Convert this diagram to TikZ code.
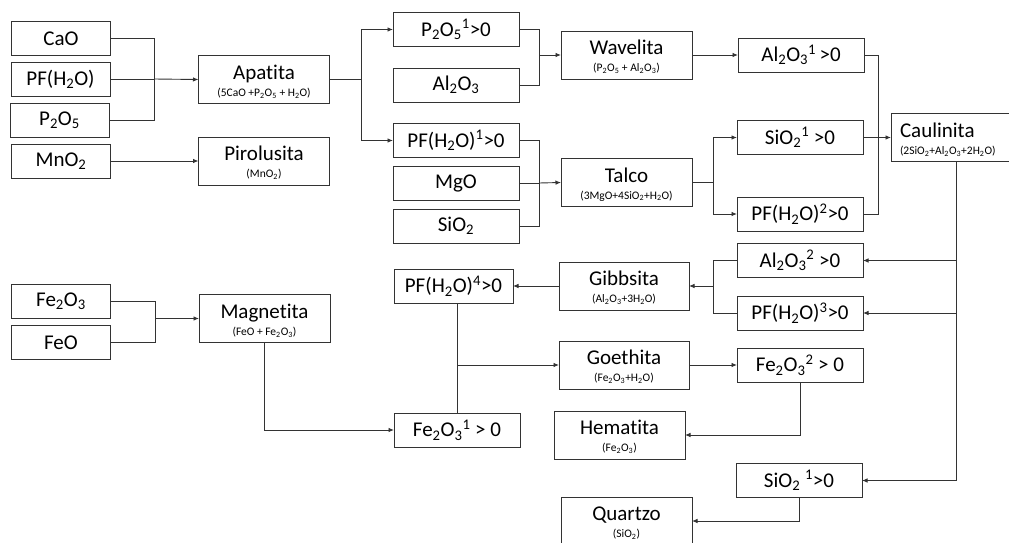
\documentclass[tikz,border=0pt]{standalone}
\usepackage{fontspec}
\setmainfont{Carlito}[Ligatures=NoCommon]
\usetikzlibrary{arrows.meta}
\newcommand\ssb[1]{\textsubscript{#1}}
\newcommand\ssp[1]{\textsuperscript{#1}}
\newcommand\mname[1]{\rule{0pt}{18.3pt}#1}
\newcommand\fml[1]{{\fontsize{11.5}{17}\selectfont #1}}

\begin{document}
\begin{tikzpicture}[x=1pt,y=-1pt,
  every node/.style={inner sep=0pt, outer sep=0pt},
  elem/.style={draw=black!80, line width=0.9pt, fill=white,
    font=\fontsize{21}{23}\selectfont, minimum height=34pt},
  small/.style={elem, minimum width=99pt},
  cond/.style={elem, minimum width=126pt},
  mineral/.style={draw=black!80, line width=0.9pt, fill=white,
    minimum width=131pt, minimum height=48pt, align=center,
    font=\fontsize{21}{17}\selectfont},
  link/.style={draw=black!80, line width=0.9pt},
  arr/.style={link, -{Latex[length=5.5pt,width=4.5pt]}},
]
\useasboundingbox (0,0) rectangle (1009,543);

% raw oxides
\node[small] (cao)  at (61,38.5) {CaO};
\node[small] (pfh)  at (60.5,79) {PF(H\ssb{2}O)};
\node[small] (p2o5) at (59.5,120) {P\ssb{2}O\ssb{5}};
\node[small] (mno2) at (61,161) {MnO\ssb{2}};
\node[small] (fe2o3) at (61,301) {Fe\ssb{2}O\ssb{3}};
\node[small] (feo)  at (61,342.5) {FeO};

% primary minerals
\node[mineral] (apatita) at (264,79.5) {\mname{Apatita}\\\fml{(5CaO +P\ssb{2}O\ssb{5} + H\ssb{2}O)}};
\node[mineral] (pirolusita) at (264,161) {\mname{Pirolusita}\\\fml{(MnO\ssb{2})}};
\node[mineral] (magnetita) at (264.5,318.5) {\mname{Magnetita}\\\fml{(FeO + Fe\ssb{2}O\ssb{3})}};

% second column
\node[cond] (p2o5c)  at (456,29.5) {P\ssb{2}O\ssb{5}\ssp{1}>0};
\node[cond] (al2o3)  at (456,85) {Al\ssb{2}O\ssb{3}};
\node[cond] (pfh1)   at (456,140.5) {PF(H\ssb{2}O)\ssp{1}>0};
\node[cond] (mgo)    at (456,183) {MgO};
\node[cond] (sio2)   at (456,226) {SiO\ssb{2}};
\node[cond, minimum width=119pt] (pfh4) at (453.5,286) {PF(H\ssb{2}O)\ssp{4}>0};
\node[cond] (fe2o3c1) at (457,430) {Fe\ssb{2}O\ssb{3}\ssp{1} > 0};

% secondary minerals
\node[mineral] (wavelita) at (626.5,55) {\mname{Wavelita}\\\fml{(P\ssb{2}O\ssb{5} + Al\ssb{2}O\ssb{3})}};
\node[mineral] (talco)    at (626.5,182.5) {\mname{Talco}\\\fml{(3MgO+4SiO\ssb{2}+H\ssb{2}O)}};
\node[mineral, minimum width=130pt] (gibbsita) at (624,286) {\mname{Gibbsita}\\\fml{(Al\ssb{2}O\ssb{3}+3H\ssb{2}O)}};
\node[mineral, minimum width=130pt] (goethita) at (624,365) {\mname{Goethita}\\\fml{(Fe\ssb{2}O\ssb{3}+H\ssb{2}O)}};
\node[mineral] (hematita) at (619.5,435) {\mname{Hematita}\\\fml{(Fe\ssb{2}O\ssb{3})}};
\node[mineral] (quartzo)  at (626.5,521) {\mname{Quartzo}\\\fml{(SiO\ssb{2})}};

% right-hand conditions
\node[cond] (al2o3c1) at (801,55) {Al\ssb{2}O\ssb{3}\ssp{1}\,>0};
\node[cond] (sio2c1)  at (800,137.5) {SiO\ssb{2}\ssp{1} >0};
\node[cond] (pfh2)    at (800,214) {PF(H\ssb{2}O)\ssp{2}>0};
\node[cond] (al2o3c2) at (800,260.5) {Al\ssb{2}O\ssb{3}\ssp{2} >0};
\node[cond] (pfh3)    at (800,313) {PF(H\ssb{2}O)\ssp{3}>0};
\node[cond] (fe2o3c2) at (800,365) {Fe\ssb{2}O\ssb{3}\ssp{2} > 0};
\node[cond] (sio2c1b) at (799,480.5) {SiO\ssb{2} \ssp{1}>0};

% kaolinite, running past the right edge
\node[mineral, minimum width=121pt, text width=103pt, inner xsep=9pt, align=left]
  (caulinita) at (951.5,137.5) {\mname{Caulinita}\\\fml{(2SiO\ssb{2}+Al\ssb{2}O\ssb{3}+2H\ssb{2}O)}};

% junction points
\coordinate (j1) at (154,79);
\coordinate (b1) at (361,79.5);
\coordinate (j2) at (539,55);
\coordinate (j3) at (539,183);
\coordinate (b2) at (713,182.5);
\coordinate (j4) at (878,137.5);
\coordinate (trunk) at (956,480.5);
\coordinate (j5) at (713,286);
\coordinate (g1) at (457,365);
\coordinate (j6) at (155,318.5);

% apatite
\draw[link] (cao.east) -| (j1);
\draw[link] (p2o5.east) -| (j1);
\draw[link] (pfh.east) -- (j1);
\draw[arr] (j1) -- (apatita.west);
\draw[arr] (mno2) -- (pirolusita);

% apatite branches
\draw[link] (apatita.east) -- (b1);
\draw[arr] (b1) |- (p2o5c.west);
\draw[arr] (b1) |- (pfh1.west);

% wavellite and talc
\draw[link] (p2o5c.east) -| (j2);
\draw[link] (al2o3.east) -| (j2);
\draw[arr] (j2) -- (wavelita.west);
\draw[link] (pfh1.east) -| (j3);
\draw[link] (mgo.east) -| (j3);
\draw[link] (sio2.east) -| (j3);
\draw[arr] (j3) -- (talco.west);
\draw[arr] (wavelita.east) -- (al2o3c1.west);
\draw[link] (talco.east) -- (b2);
\draw[arr] (b2) |- (sio2c1.west);
\draw[arr] (b2) |- (pfh2.west);

% kaolinite
\draw[link] (al2o3c1.east) -| (j4);
\draw[link] (pfh2.east) -| (j4);
\draw[link] (sio2c1.east) -- (j4);
\draw[arr] (j4) -- (caulinita.west);
\draw[link] (caulinita.south -| trunk) -- (trunk);
\draw[arr] (trunk |- al2o3c2) -- (al2o3c2.east);
\draw[arr] (trunk |- pfh3) -- (pfh3.east);
\draw[arr] (trunk) -- (sio2c1b.east);

% gibbsite, goethite, hematite, quartz
\draw[link] (al2o3c2.west) -| (j5);
\draw[link] (pfh3.west) -| (j5);
\draw[arr] (j5) -- (gibbsita.east);
\draw[arr] (gibbsita.west) -- (pfh4.east);
\draw[link] (pfh4.south -| fe2o3c1.north) -- (fe2o3c1.north);
\draw[arr] (g1) -- (goethita.west);
\draw[arr] (goethita.east) -- (fe2o3c2.west);
\draw[arr] (fe2o3c2.south) |- (hematita.east);
\draw[arr] (sio2c1b.south) |- (quartzo.east);

% magnetite
\draw[link] (fe2o3.east) -| (j6);
\draw[link] (feo.east) -| (j6);
\draw[arr] (j6) -- (magnetita.west);
\draw[arr] (magnetita.south) |- (fe2o3c1.west);
\end{tikzpicture}
\end{document}
